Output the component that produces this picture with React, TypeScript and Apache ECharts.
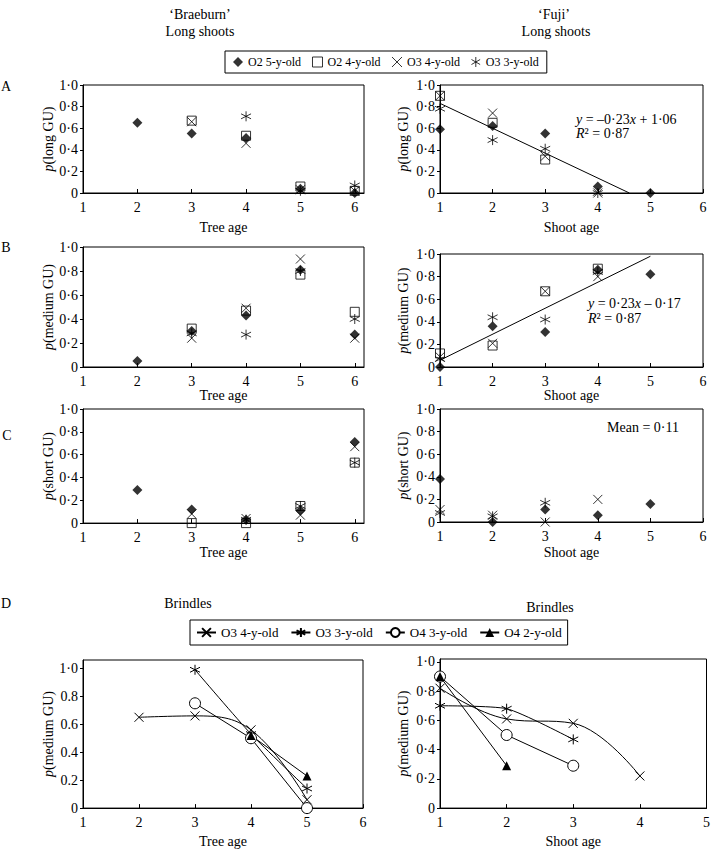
import React, { useEffect, useRef } from 'react';
import * as echarts from 'echarts';

const FONT = 'Liberation Serif';

// ---- Legend / series names ----
const topNames = ['O2 5-y-old', 'O2 4-y-old', 'O3 4-y-old', 'O3 3-y-old'];
const brindleNames = ['O3 4-y-old', 'O3 3-y-old', 'O4 3-y-old', 'O4 2-y-old'];

// ---- Tick values ----
const yTicks = [0, 0.2, 0.4, 0.6, 0.8, 1.0];
const ageTicks6 = [1, 2, 3, 4, 5, 6];

// ---- Panel A: long GU ----
const aBraeO2_5 = [[2, 0.65], [3, 0.55], [4, 0.51], [5, 0.04], [6, 0.0]];
const aBraeO2_4 = [[3, 0.67], [4, 0.53], [5, 0.06], [6, 0.02]];
const aBraeO3_4 = [[3, 0.66], [4, 0.46], [5, 0.03], [6, 0.02]];
const aBraeO3_3 = [[4, 0.71], [5, 0.02], [6, 0.07]];

const aFujiO2_5 = [[1, 0.59], [2, 0.62], [3, 0.55], [4, 0.06], [5, 0.0]];
const aFujiO2_4 = [[1, 0.9], [2, 0.65], [3, 0.31]];
const aFujiO3_4 = [[1, 0.9], [2, 0.74], [3, 0.34], [4, 0.0]];
const aFujiO3_3 = [[1, 0.78], [2, 0.49], [3, 0.41], [4, 0.0]];
const aFujiFit = [[1, 0.83], [4.6, 0.0]];

// ---- Panel B: medium GU ----
const bBraeO2_5 = [[2, 0.05], [3, 0.3], [4, 0.43], [5, 0.81], [6, 0.27]];
const bBraeO2_4 = [[3, 0.32], [4, 0.47], [5, 0.77], [6, 0.46]];
const bBraeO3_4 = [[3, 0.24], [4, 0.49], [5, 0.9], [6, 0.24]];
const bBraeO3_3 = [[3, 0.28], [4, 0.27], [5, 0.8], [6, 0.4]];

const bFujiO2_5 = [[1, 0.0], [2, 0.36], [3, 0.31], [4, 0.86], [5, 0.82]];
const bFujiO2_4 = [[1, 0.12], [2, 0.19], [3, 0.67], [4, 0.87]];
const bFujiO3_4 = [[1, 0.09], [2, 0.21], [3, 0.67], [4, 0.8]];
const bFujiO3_3 = [[1, 0.07], [2, 0.44], [3, 0.42], [4, 0.84]];
const bFujiFit = [[1, 0.06], [5, 0.98]];

// ---- Panel C: short GU ----
const cBraeO2_5 = [[2, 0.29], [3, 0.12], [4, 0.03], [5, 0.11], [6, 0.71]];
const cBraeO2_4 = [[3, 0.0], [4, 0.0], [5, 0.15], [6, 0.53]];
const cBraeO3_4 = [[3, 0.08], [4, 0.04], [5, 0.07], [6, 0.67]];
const cBraeO3_3 = [[4, 0.03], [5, 0.15], [6, 0.53]];

const cFujiO2_5 = [[1, 0.38], [2, 0.0], [3, 0.11], [4, 0.06], [5, 0.16]];
const cFujiO3_4 = [[1, 0.11], [2, 0.06], [3, 0.0], [4, 0.2]];
const cFujiO3_3 = [[1, 0.08], [2, 0.05], [3, 0.17]];

// ---- Panel D: brindles, medium GU ----
const dBraeO3_4 = [[2, 0.65], [3, 0.66], [4, 0.56], [5, 0.06]];
const dBraeO3_3 = [[3, 0.99], [4, 0.53], [5, 0.14]];
const dBraeO4_3 = [[3, 0.75], [4, 0.5], [5, 0.0]];
const dBraeO4_2 = [[4, 0.52], [5, 0.23]];

const dFujiO3_4 = [[1, 0.82], [2, 0.61], [3, 0.58], [4, 0.22]];
const dFujiO3_3 = [[1, 0.7], [2, 0.68], [3, 0.47]];
const dFujiO4_3 = [[1, 0.9], [2, 0.5], [3, 0.29]];
const dFujiO4_2 = [[1, 0.9], [2, 0.29]];

// ---- Symbols ----
const X_PATH = 'path://M0,0L10,10M0,10L10,0';
const AST_PATH = 'path://M5,0L5,10M0.67,2.5L9.33,7.5M0.67,7.5L9.33,2.5';

const strokeStyle = { color: 'rgba(0,0,0,0)', borderColor: '#000', borderWidth: 1 };

const markerStyles: Record<string, any> = {
  'O2 5-y-old': { symbol: 'diamond', symbolSize: 10, itemStyle: { color: '#000' } },
  'O2 4-y-old': { symbol: 'rect', symbolSize: 9, itemStyle: strokeStyle },
  'O3 4-y-old': { symbol: X_PATH, symbolSize: 9, itemStyle: strokeStyle },
  'O3 3-y-old': { symbol: AST_PATH, symbolSize: 10, itemStyle: strokeStyle },
};

const brindleStyles: Record<string, any> = {
  'O3 4-y-old': { symbol: X_PATH, symbolSize: 9, itemStyle: strokeStyle, smooth: 0.4 },
  'O3 3-y-old': { symbol: AST_PATH, symbolSize: 10, itemStyle: strokeStyle, smooth: 0.2 },
  'O4 3-y-old': { symbol: 'circle', symbolSize: 11, itemStyle: { color: '#fff', borderColor: '#000', borderWidth: 1 }, smooth: false },
  'O4 2-y-old': { symbol: 'triangle', symbolSize: 9, itemStyle: { color: '#000' }, smooth: false },
};

const dotFmt = (v: number) => (v === 0 ? '0' : v.toFixed(1).replace('.', '·'));
const dFmtLeft = (v: number) => (v === 0 ? '0' : v === 1 ? '1·0' : v.toFixed(1));

const baseText = { fontFamily: FONT, color: '#000', fontWeight: 'normal' as const };
const italicRich = { i: { fontStyle: 'italic', fontFamily: FONT, fontSize: 14, color: '#000', fontWeight: 'normal', lineHeight: 13 } };

function makeX(gridIndex: number, max: number, name: string, nameGap: number) {
  return {
    type: 'value', gridIndex, min: 1, max, interval: 1,
    name, nameLocation: 'middle', nameGap,
    nameTextStyle: { ...baseText, fontSize: 14 },
    axisLine: { show: true, onZero: false, lineStyle: { color: '#000', width: 1 } },
    axisTick: { show: true, inside: true, length: 4, lineStyle: { color: '#000' }, customValues: ageTicks6.filter((t) => t <= max) },
    axisLabel: { ...baseText, fontSize: 14, margin: 7, customValues: ageTicks6.filter((t) => t <= max) },
    splitLine: { show: false },
  };
}

function makeY(gridIndex: number, max: number, name: string, nameGap: number, fmt: (v: number) => string) {
  return {
    type: 'value', gridIndex, min: 0, max, interval: 0.2,
    name: '{i|p}' + name, nameLocation: 'middle', nameGap,
    nameTextStyle: { ...baseText, fontSize: 14, rich: italicRich },
    axisLine: { show: true, onZero: false, lineStyle: { color: '#000', width: 1 } },
    axisTick: { show: true, inside: false, length: 3, lineStyle: { color: '#000' }, customValues: yTicks },
    axisLabel: { ...baseText, fontSize: 14, margin: 5, formatter: fmt, customValues: yTicks },
    splitLine: { show: false },
  };
}

function scatter(name: string, data: number[][], idx: number) {
  const s = markerStyles[name];
  return {
    type: 'scatter', name, data, xAxisIndex: idx, yAxisIndex: idx,
    symbol: s.symbol, symbolSize: s.symbolSize, itemStyle: s.itemStyle, z: 3,
  };
}

function fitLine(data: number[][], idx: number) {
  return {
    type: 'line', name: 'fit' + idx, data, xAxisIndex: idx, yAxisIndex: idx,
    symbol: 'none', lineStyle: { color: '#000', width: 1 }, z: 2, silent: true,
  };
}

function brindle(name: string, data: number[][], idx: number) {
  const s = brindleStyles[name];
  return {
    type: 'line', name, data, xAxisIndex: idx, yAxisIndex: idx,
    symbol: s.symbol, symbolSize: s.symbolSize, itemStyle: s.itemStyle, smooth: s.smooth,
    showAllSymbol: true,
    lineStyle: { color: '#000', width: 1 },
  };
}

function txt(text: string, x: number, y: number, align: string = 'center', size = 14) {
  return {
    type: 'text', x, y, silent: true,
    style: {
      text, fill: '#000', font: `${size}px "${FONT}"`, fontFamily: FONT, fontSize: size, fontWeight: 'normal',
      lineHeight: 13,
      textAlign: align, textVerticalAlign: 'middle', rich: italicRich,
    },
  };
}

const grid = (left: number, top: number, width: number, height: number) => ({
  left, top, width, height, show: true, borderColor: '#000', borderWidth: 1, backgroundColor: 'transparent',
});

function optionTop() {
  const topSets = [
    [aBraeO2_5, aBraeO2_4, aBraeO3_4, aBraeO3_3],
    [aFujiO2_5, aFujiO2_4, aFujiO3_4, aFujiO3_3],
    [bBraeO2_5, bBraeO2_4, bBraeO3_4, bBraeO3_3],
    [bFujiO2_5, bFujiO2_4, bFujiO3_4, bFujiO3_3],
    [cBraeO2_5, cBraeO2_4, cBraeO3_4, cBraeO3_3],
    [cFujiO2_5, [], cFujiO3_4, cFujiO3_3],
  ];
  const series: any[] = [fitLine(aFujiFit, 1), fitLine(bFujiFit, 3)];
  topSets.forEach((set, idx) => {
    set.forEach((d, k) => {
      if (d.length) series.push(scatter(topNames[k], d, idx));
    });
  });
  return {
    animation: false,
    textStyle: { fontFamily: FONT, fontWeight: 'normal' },
    grid: [
      grid(83, 85, 281, 108),
      grid(440, 85, 263, 108),
      grid(83, 247, 281, 120),
      grid(440, 254, 263, 113),
      grid(83, 409, 281, 123),
      grid(440, 409, 263, 123),
    ],
    xAxis: [
      makeX(0, 6.17, 'Tree age', 27),
      makeX(1, 6, 'Shoot age', 27),
      makeX(2, 6.17, 'Tree age', 19),
      makeX(3, 6, 'Shoot age', 21),
      makeX(4, 6.17, 'Tree age', 21),
      makeX(5, 6, 'Shoot age', 23),
    ],
    yAxis: [
      makeY(0, 1, '(long GU)', 27, dotFmt),
      makeY(1, 1, '(long GU)', 30, dotFmt),
      makeY(2, 1, '(medium GU)', 27, dotFmt),
      makeY(3, 1, '(medium GU)', 30, dotFmt),
      makeY(4, 1, '(short GU)', 27, dotFmt),
      makeY(5, 1, '(short GU)', 30, dotFmt),
    ],
    legend: {
      left: 225, top: 51, orient: 'horizontal',
      padding: [5, 8], itemGap: 11, itemWidth: 10, itemHeight: 10,
      borderColor: '#000', borderWidth: 1,
      textStyle: { ...baseText, fontSize: 12 },
      selectedMode: false,
      data: topNames.map((n) => ({ name: n, icon: markerStyles[n].symbol, itemStyle: markerStyles[n].itemStyle })),
    },
    graphic: [
      txt('‘Braeburn’', 200, 14),
      txt('Long shoots', 200, 31),
      txt('‘Fuji’', 554, 14),
      txt('Long shoots', 556, 31),
      txt('A', 6, 86),
      txt('B', 6, 247),
      txt('C', 7, 435),
      txt('{i|y} = –0·23{i|x} + 1·06', 576, 119, 'left'),
      txt('{i|R}² = 0·87', 576, 133, 'left'),
      txt('{i|y} = 0·23{i|x} – 0·17', 588, 303, 'left'),
      txt('{i|R}² = 0·87', 588, 318, 'left'),
      txt('Mean = 0·11', 607, 427, 'left'),
    ],
    series,
  };
}

function optionBottom() {
  const sets = [
    [dBraeO3_4, dBraeO3_3, dBraeO4_3, dBraeO4_2],
    [dFujiO3_4, dFujiO3_3, dFujiO4_3, dFujiO4_2],
  ];
  const series: any[] = [];
  sets.forEach((set, idx) => set.forEach((d, k) => series.push(brindle(brindleNames[k], d, idx))));
  return {
    animation: false,
    textStyle: { fontFamily: FONT, fontWeight: 'normal' },
    grid: [grid(83, 100, 280, 152), grid(440, 99, 267, 153)],
    xAxis: [makeX(0, 6, 'Tree age', 24), makeX(1, 5, 'Shoot age', 24)],
    yAxis: [
      makeY(0, 1.06, '(medium GU)', 27, dFmtLeft),
      makeY(1, 1.02, '(medium GU)', 30, dotFmt),
    ],
    legend: {
      left: 190, top: 60, orient: 'horizontal',
      padding: [6, 6], itemGap: 12, itemWidth: 19, itemHeight: 11,
      borderColor: '#000', borderWidth: 1,
      textStyle: { ...baseText, fontSize: 13 },
      selectedMode: false,
      data: brindleNames,
    },
    graphic: [
      txt('D', 6, 43),
      txt('Brindles', 188, 43),
      txt('Brindles', 550, 47),
    ],
    series,
  };
}

export default function App() {
  const r1 = useRef<HTMLDivElement>(null);
  const r2 = useRef<HTMLDivElement>(null);
  useEffect(() => {
    const c1 = echarts.init(r1.current!, null, { renderer: 'svg' });
    const c2 = echarts.init(r2.current!, null, { renderer: 'svg' });
    c1.setOption(optionTop() as any);
    c2.setOption(optionBottom() as any);
    return () => {
      c1.dispose();
      c2.dispose();
    };
  }, []);
  return (
    <div style={{ position: 'absolute', left: 0, top: 0, width: 713, height: 853, background: '#fff' }}>
      <div ref={r1} style={{ position: 'absolute', left: 0, top: 0, width: 713, height: 560 }} />
      <div ref={r2} style={{ position: 'absolute', left: 0, top: 560, width: 713, height: 293 }} />
    </div>
  );
}
